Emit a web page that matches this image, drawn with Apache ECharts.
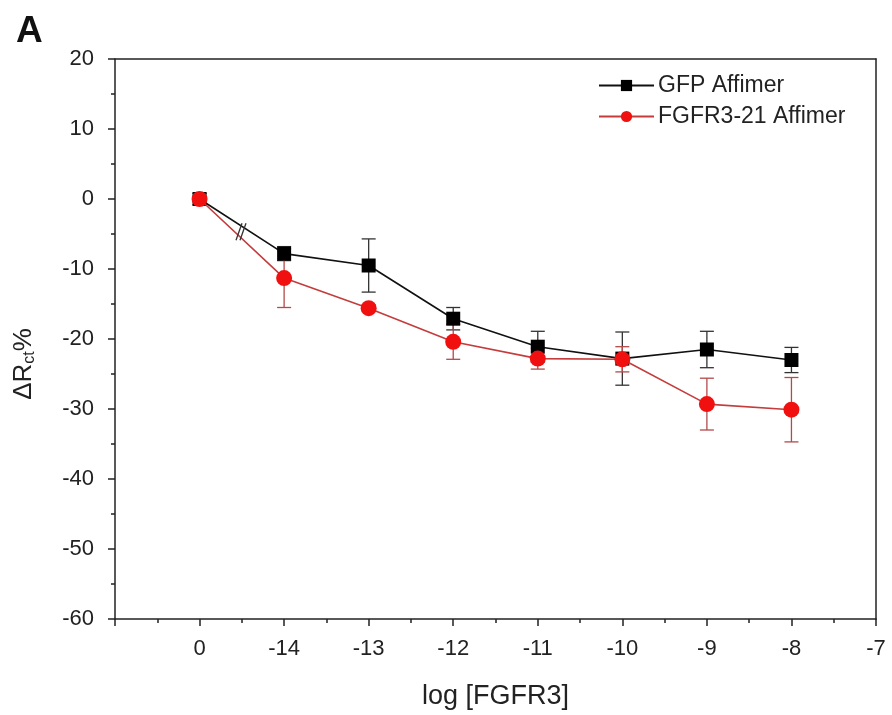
<!DOCTYPE html>
<html><head><meta charset="utf-8">
<script src="https://cdn.jsdelivr.net/npm/echarts@6/dist/echarts.min.js"></script>
<style>html,body{margin:0;padding:0;background:#fff}#c{width:892px;height:715px}</style>
</head><body><div id="c"></div>
<script>
// categories (x positions are index based: -1 .. 8)
var xTickLabels = ['', '0', '-14', '-13', '-12', '-11', '-10', '-9', '-8', '-7'];
var xPositions = [0, 1, 2, 3, 4, 5, 6, 7];
var gfpValues = [0, -7.8, -9.5, -17.1, -21.1, -22.8, -21.5, -23.0];
var gfpErrors = [0.8, 1.0, 3.8, 1.6, 2.2, 3.8, 2.6, 1.8];
var fgfrValues = [0, -11.3, -15.6, -20.4, -22.8, -22.9, -29.3, -30.1];
var fgfrErrors = [0.8, 4.2, 0.5, 2.5, 1.5, 1.8, 3.7, 4.6];
var breakPoint = [0.49, -4.6];

function pairs(v){ return xPositions.map(function(x,i){ return [x, v[i]]; }); }
function errData(v,e){ return xPositions.map(function(x,i){ return [x, v[i]-e[i], v[i]+e[i]]; }); }
function errRender(color){
  return function(params, api){
    var x = api.value(0);
    var lo = api.coord([x, api.value(1)]);
    var hi = api.coord([x, api.value(2)]);
    var w = 7;
    var st = {stroke: color, lineWidth: 1.3};
    return {type:'group', children:[
      {type:'line', shape:{x1:lo[0],y1:lo[1],x2:hi[0],y2:hi[1]}, style:st},
      {type:'line', shape:{x1:lo[0]-w,y1:lo[1],x2:lo[0]+w,y2:lo[1]}, style:st},
      {type:'line', shape:{x1:hi[0]-w,y1:hi[1],x2:hi[0]+w,y2:hi[1]}, style:st}
    ]};
  };
}
var font = 'Liberation Sans, Arial, sans-serif';
var chart = echarts.init(document.getElementById('c'));
chart.setOption({
  backgroundColor:'#fff',
  animation:false,
  graphic:[
    {type:'text', left:16, top:13, style:{text:'A', font:'bold 37px '+font, fill:'#111'}},
    {type:'text', x:24, y:364, rotation:Math.PI/2,
      style:{text:'{a|ΔR}{b|ct}{a|%}', align:'center', verticalAlign:'middle',
        rich:{a:{fontFamily:font, fontSize:26, fill:'#222'},
              b:{fontFamily:font, fontSize:16, fill:'#222', padding:[12,0,0,0]}}}}
  ],
  legend:{
    left:593, top:69, orient:'vertical', itemWidth:55, itemHeight:14, itemGap:8,
    textStyle:{fontFamily:font, fontSize:23, color:'#222', padding:[0,0,0,-1]},
    data:['GFP Affimer','FGFR3-21 Affimer']
  },
  grid:{left:115, right:16, top:59, bottom:93},
  xAxis:[{
    type:'value', min:-1, max:8, interval:1,
    axisLine:{onZero:false, lineStyle:{color:'#222', width:1.5}},
    axisTick:{length:7, lineStyle:{color:'#222', width:1.5}},
    minorTick:{show:true, splitNumber:2, length:4, lineStyle:{color:'#222', width:1.5}},
    splitLine:{show:false},
    axisLabel:{fontFamily:font, fontSize:22, color:'#222', margin:19,
      formatter:function(v){ return xTickLabels[Math.round(v)+1]; }},
    name:'log [FGFR3]', nameLocation:'middle', nameGap:64,
    nameTextStyle:{fontFamily:font, fontSize:27, color:'#222'}
  },{
    type:'value', min:-1, max:8, position:'top',
    axisLine:{show:true, onZero:false, lineStyle:{color:'#222', width:1.5}},
    axisTick:{show:false}, axisLabel:{show:false}, splitLine:{show:false}
  }],
  yAxis:[{
    type:'value', min:-60, max:20, interval:10,
    axisLine:{show:true, onZero:false, lineStyle:{color:'#222', width:1.5}},
    axisTick:{show:true, length:7, lineStyle:{color:'#222', width:1.5}},
    minorTick:{show:true, splitNumber:2, length:4, lineStyle:{color:'#222', width:1.5}},
    splitLine:{show:false},
    axisLabel:{fontFamily:font, fontSize:22, color:'#222', margin:21}
  },{
    type:'value', min:-60, max:20, position:'right',
    axisLine:{show:true, onZero:false, lineStyle:{color:'#222', width:1.5}},
    axisTick:{show:false}, axisLabel:{show:false}, splitLine:{show:false}
  }],
  series:[
    {type:'custom', name:'gfpErr', renderItem:errRender('#333'), data:errData(gfpValues,gfpErrors), z:2, encode:{x:0,y:[1,2]}},
    {type:'custom', name:'fgfrErr', renderItem:errRender('#b24a4a'), data:errData(fgfrValues,fgfrErrors), z:2, encode:{x:0,y:[1,2]}},
    {type:'line', name:'GFP Affimer', data:pairs(gfpValues), symbol:'rect', symbolSize:14,
      lineStyle:{color:'#111', width:1.6}, itemStyle:{color:'#000'}, z:3},
    {type:'line', name:'FGFR3-21 Affimer', data:pairs(fgfrValues), symbol:'circle', symbolSize:16,
      lineStyle:{color:'#c43c3c', width:1.6}, itemStyle:{color:'#f01010'}, z:4},
    {type:'custom', name:'break', data:[breakPoint], z:5,
      renderItem:function(params, api){
        var p = api.coord([api.value(0), api.value(1)]);
        var st = {stroke:'#333', lineWidth:1.3};
        return {type:'group', children:[
          {type:'line', shape:{x1:p[0]-5,y1:p[1]+9,x2:p[0]+1,y2:p[1]-8}, style:st},
          {type:'line', shape:{x1:p[0]-1,y1:p[1]+9,x2:p[0]+5,y2:p[1]-8}, style:st}
        ]};
      }}
  ]
});
</script></body></html>
